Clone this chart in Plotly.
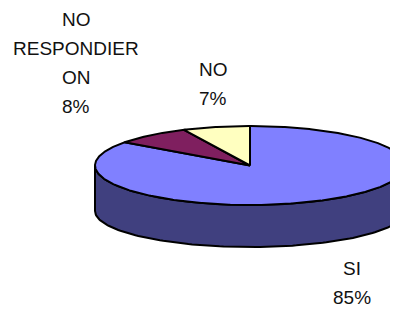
import numpy as np
import plotly.graph_objects as go

# ---- data ----
categories = ["SI", "NO RESPONDIER ON", "NO"]
values = [85, 8, 7]
label_lines = [["SI"], ["NO", "RESPONDIER", "ON"], ["NO"]]

# ---- styling / geometry ----
top_colors = ["#8080FF", "#7F1F5F", "#FFFFC0"]
side_colors = ["#40407F", "#3F0F2F", "#7F7F60"]
CX, CY, RX, RY = 250, 165.5, 155, 39.5
CY_B, RY_B = 211, 36  # bottom rim ellipse (perspective)
W, H = 398, 309
OFF = 8  # page body margin offset

def pt(theta_deg, cy=CY, ry=RY):
    t = np.radians(theta_deg)
    return CX + RX * np.sin(t), cy - ry * np.cos(t)

fig = go.Figure()
total = float(sum(values))
bounds = np.concatenate([[0], np.cumsum(values) / total * 360.0])

# side wall (front visible part: theta between 90 and 270)
for i in range(len(values)):
    a0, a1 = bounds[i], bounds[i + 1]
    s0, s1 = max(a0, 90), min(a1, 270)
    if s1 <= s0:
        continue
    th = np.linspace(s0, s1, 120)
    xt, yt = pt(th)
    xb, yb = pt(th[::-1], CY_B, RY_B)
    xs = np.concatenate([xt, xb, xt[:1]])
    ys = np.concatenate([yt, yb, yt[:1]])
    fig.add_trace(go.Scatter(x=xs, y=ys, mode="lines", fill="toself",
                             fillcolor=side_colors[i],
                             line=dict(color="black", width=2),
                             hoverinfo="skip", showlegend=False))

# top slices
for i in range(len(values)):
    a0, a1 = bounds[i], bounds[i + 1]
    th = np.linspace(a0, a1, max(10, int((a1 - a0) * 2)))
    xe, ye = pt(th)
    xs = np.concatenate([[CX], xe, [CX]])
    ys = np.concatenate([[CY], ye, [CY]])
    fig.add_trace(go.Scatter(x=xs, y=ys, mode="lines", fill="toself",
                             fillcolor=top_colors[i],
                             line=dict(color="black", width=2),
                             hoverinfo="skip", showlegend=False,
                             name=categories[i]))

# labels
label_pos = [(352, 268), (76, 19), (213, 69)]
spacing = 29
font = dict(family="Liberation Sans, Arial, sans-serif", size=19, color="#111111")
for i in range(len(values)):
    lines = label_lines[i] + [f"{values[i]}%"]
    x0, y0 = label_pos[i]
    for k, line in enumerate(lines):
        fig.add_annotation(x=x0, y=y0 + k * spacing, text=line, showarrow=False,
                           xref="x", yref="y", font=font,
                           xanchor="center", yanchor="middle")

fig.update_layout(
    width=W, height=H, margin=dict(l=0, r=0, t=0, b=0),
    paper_bgcolor="white", plot_bgcolor="white",
    xaxis=dict(range=[OFF, W + OFF], visible=False, fixedrange=True),
    yaxis=dict(range=[H + OFF, OFF], visible=False, fixedrange=True),
)
fig.write_html("out.html")
